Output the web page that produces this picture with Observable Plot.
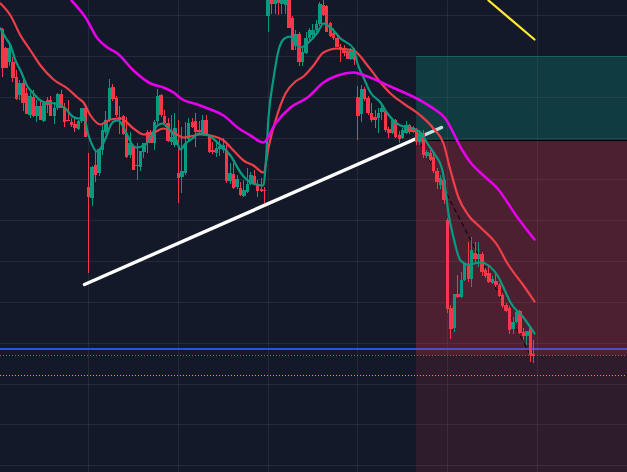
<!DOCTYPE html>
<html><head><meta charset="utf-8">
<script src="https://cdn.jsdelivr.net/npm/d3@7"></script>
<script src="https://cdn.jsdelivr.net/npm/@observablehq/plot@0.6"></script>
<style>html,body{margin:0;padding:0;background:#14192a;overflow:hidden}svg{display:block}</style>
</head><body><div id="chart"></div>
<script>
// Chart units: x grows to the right, y grows downward (the source picture has no axis labels).
const barStart = 1.95, barStep = 3.45;
const gridX = [88,178,268,357,447,537];
const gridY = [15,56,97,138,179,220,261,302,343,384,424,465];

const open = [29,48,62,62,77,95,83,93,115,97,116,106,121,100,100,116,108,94,107,120,122,124,129,121,108,
187,198,165,173,150,132,120,87,98,117,116,134,155,146,166,167,152,132,132,143,121,95,116,123,142,145,
173,177,173,139,122,121,130,133,120,135,150,153,149,150,150,181,174,187,188,196,192,184,176,184,189,190,
16,-10,4,-5,4,5,-8,18,46,34,62,53,38,35,30,24,5,6,23,33,38,47,48,51,59,50,
97,114,89,98,113,117,118,112,111,129,133,120,135,138,133,125,128,129,142,133,156,153,157,171,185,180,
220,308,328,294,297,280,264,279,253,259,254,270,273,283,281,285,295,305,308,329,322,311,332,336,327,354];
const high = [28,47,42,57,70,80,80,88,92,90,100,100,103,97,96,102,93,90,103,100,118,119,120,108,106,
153,166,150,149,125,111,79,84,96,106,115,117,132,145,143,151,143,130,130,120,89,94,110,118,115,113,
120,127,122,118,118,113,121,115,115,134,142,140,138,138,145,163,163,175,182,180,168,172,170,180,178,187,
-15,-15,-15,-15,-15,-10,-10,16,30,32,48,32,28,24,20,2,-3,5,22,28,36,44,45,50,48,48,
86,85,87,96,103,110,108,105,110,127,118,119,131,128,121,124,126,128,130,130,150,150,153,168,175,178,
218,305,294,275,272,264,242,237,242,242,252,268,265,276,271,283,293,303,306,317,311,310,328,331,326,340];
const low = [77,68,66,82,100,100,111,114,118,117,122,120,122,113,116,124,110,108,127,121,127,132,130,123,137,
273,206,182,176,155,134,122,101,117,134,135,158,158,170,180,171,158,153,143,150,124,117,125,142,145,147,
203,193,175,141,128,147,134,135,136,153,154,157,156,153,183,184,189,189,196,197,193,185,184,197,192,203,
32,14,14,15,14,14,28,50,50,66,66,54,42,38,32,26,16,32,37,40,47,62,56,59,60,65,
140,122,101,115,122,128,133,120,132,138,134,138,143,139,134,134,133,145,145,158,158,161,173,189,189,204,
313,339,332,298,298,281,282,287,263,267,276,278,283,284,287,297,308,312,334,334,323,334,340,345,362,363];
const close = [68,68,48,78,99,83,103,114,96,116,106,120,103,105,116,108,94,108,122,121,125,128,121,108,137,
197,167,175,149,130,120,88,99,115,120,134,157,143,170,165,151,143,143,143,122,96,115,123,141,137,128,
178,171,143,123,127,132,132,120,135,152,152,148,146,145,181,173,188,179,195,190,184,175,184,191,191,191,
-10,4,-5,3,-8,-4,28,50,34,62,52,38,30,30,24,4,15,32,36,38,47,50,53,59,50,60,
116,89,99,113,120,120,113,108,130,133,120,137,139,130,125,132,132,142,133,155,152,160,171,182,178,200,
309,329,294,297,280,264,279,250,259,254,272,276,282,279,285,296,306,311,330,322,312,333,336,331,355,356];

const fastT = [0,5,10,15,20,27,33,40,45,55,65,72,78,83,88,92,96,100,105,110,113,118,122,127,131,136,141,146,152,157,162,167,172,176,180,185,192,198,208,218,230,240,250,263,265,268,273,278,284,290,293,300,308,317,323,330,340,353,357,363,370,380,387,400,413,420,427,433,442,445,448,453,460,468,480,497,503,510,523,534];
const fastY = [28,37,45,60,70,86,93,100,102,103,108,116,118,116,135,145,151,148,138,125,121,120,125,135,143,147,146,143,133,125,123,127,133,140,149,143,138,133,135,143,155,172,182,185,167,117,78,50,38,36,40,47,42,32,23,27,38,48,63,77,92,102,113,125,128,132,143,152,170,190,213,237,260,264,262,275,287,302,317,333];
const midT = [0,10,20,30,40,53,67,77,83,90,100,110,120,133,143,153,163,173,183,200,210,223,233,243,253,263,268,275,285,295,303,313,323,337,353,367,380,390,403,420,433,443,450,458,468,480,497,507,523,534];
const midY = [3,15,35,50,65,79,88,97,102,115,124,119,118,128,134,132,128,132,137,134,135,140,150,160,165,172,147,120,93,81,76,65,52,48,50,65,82,93,103,115,128,143,170,197,215,227,245,263,285,301];
const slowT = [71,85,97,107,117,133,150,163,173,182,197,210,223,237,250,263,275,290,307,323,337,353,367,390,420,433,444,462,470,483,497,517,534];
const slowY = [0,17,38,47,53,70,83,87,92,99,104,109,115,127,135,142,123,107,97,82,75,72,76,86,100,108,117,150,162,175,188,217,239];

const trendT = [84,441], trendY = [284,127];
const yellowT = [488,534], yellowY = [0,39];
const dashT = [417,530], dashY = [137,355];
const blueLevel = 348.5, redDots = 355, orangeDots = 375;
const boxLeft = 416, boxRight = 627, tpTop = 56, entry = 140, stopA = 355.5, stopB = 472;

const colorUp = "#089981", colorDown = "#f6374a";
const idx = d3.range(open.length);
const bt = i => barStart + barStep*i;
const ups = idx.filter(i => close[i] < open[i]);
const downs = idx.filter(i => close[i] >= open[i]);
const toLine = (t,y) => t.map((v,i)=>({t:v,y:y[i]}));

function candles(set, color){
  return [
    Plot.ruleX(set,{x:bt,y1:i=>high[i],y2:i=>low[i],stroke:color,strokeWidth:1,clip:true,shapeRendering:"crispEdges"}),
    Plot.ruleX(set,{x:bt,y1:i=>open[i],y2:i=>close[i],stroke:color,strokeWidth:3.4,clip:true,shapeRendering:"crispEdges"})
  ];
}

const chart = Plot.plot({
  width:627,height:472,margin:0,
  style:{background:"#14192a"},
  x:{domain:[0,627],range:[0,627],axis:null},
  y:{domain:[0,472],range:[0,472],axis:null},
  marks:[
    Plot.ruleX(gridX,{stroke:"#ffffff",strokeOpacity:0.07,strokeWidth:1}),
    Plot.ruleY(gridY,{stroke:"#ffffff",strokeOpacity:0.07,strokeWidth:1}),
    Plot.ruleY([blueLevel],{stroke:"#1c55f0",strokeWidth:2}),
    Plot.ruleY([redDots],{stroke:colorDown,strokeWidth:1,strokeDasharray:"1 2"}),
    Plot.ruleY([orangeDots],{stroke:"#ff9800",strokeWidth:1,strokeDasharray:"1 2"}),
    Plot.line(toLine(trendT,trendY),{x:"t",y:"y",stroke:"#ffffff",strokeWidth:3.4}),
    Plot.rect([0],{x1:boxLeft,x2:boxRight,y1:tpTop,y2:entry,fill:"#089981",fillOpacity:0.27}),
    Plot.rect([0],{x1:boxLeft,x2:boxRight,y1:entry,y2:stopA,fill:"#f23645",fillOpacity:0.25}),
    Plot.rect([0],{x1:boxLeft,x2:boxRight,y1:stopA,y2:stopB,fill:"#f23645",fillOpacity:0.12}),
    Plot.ruleY([tpTop],{x1:boxLeft,x2:boxRight,stroke:"#089981",strokeOpacity:0.35,strokeWidth:1}),
    Plot.ruleY([entry],{x1:boxLeft,x2:boxRight,stroke:"#000000",strokeWidth:1}),
    Plot.line(toLine(dashT,dashY),{x:"t",y:"y",stroke:"#000000",strokeWidth:1,strokeDasharray:"4 4"}),
    ...candles(ups,colorUp),
    ...candles(downs,colorDown),
    Plot.line(toLine(midT,midY),{x:"t",y:"y",stroke:"#ee3e49",strokeWidth:2.2,curve:"monotone-x",clip:true}),
    Plot.line(toLine(fastT,fastY),{x:"t",y:"y",stroke:colorUp,strokeWidth:2.2,curve:"monotone-x",clip:true}),
    Plot.line(toLine(slowT,slowY),{x:"t",y:"y",stroke:"#e600ec",strokeWidth:2.6,curve:"monotone-x",clip:true}),
    Plot.line(toLine(yellowT,yellowY),{x:"t",y:"y",stroke:"#ffea2e",strokeWidth:2.2,clip:true})
  ]
});
document.getElementById("chart").append(chart);
</script></body></html>
